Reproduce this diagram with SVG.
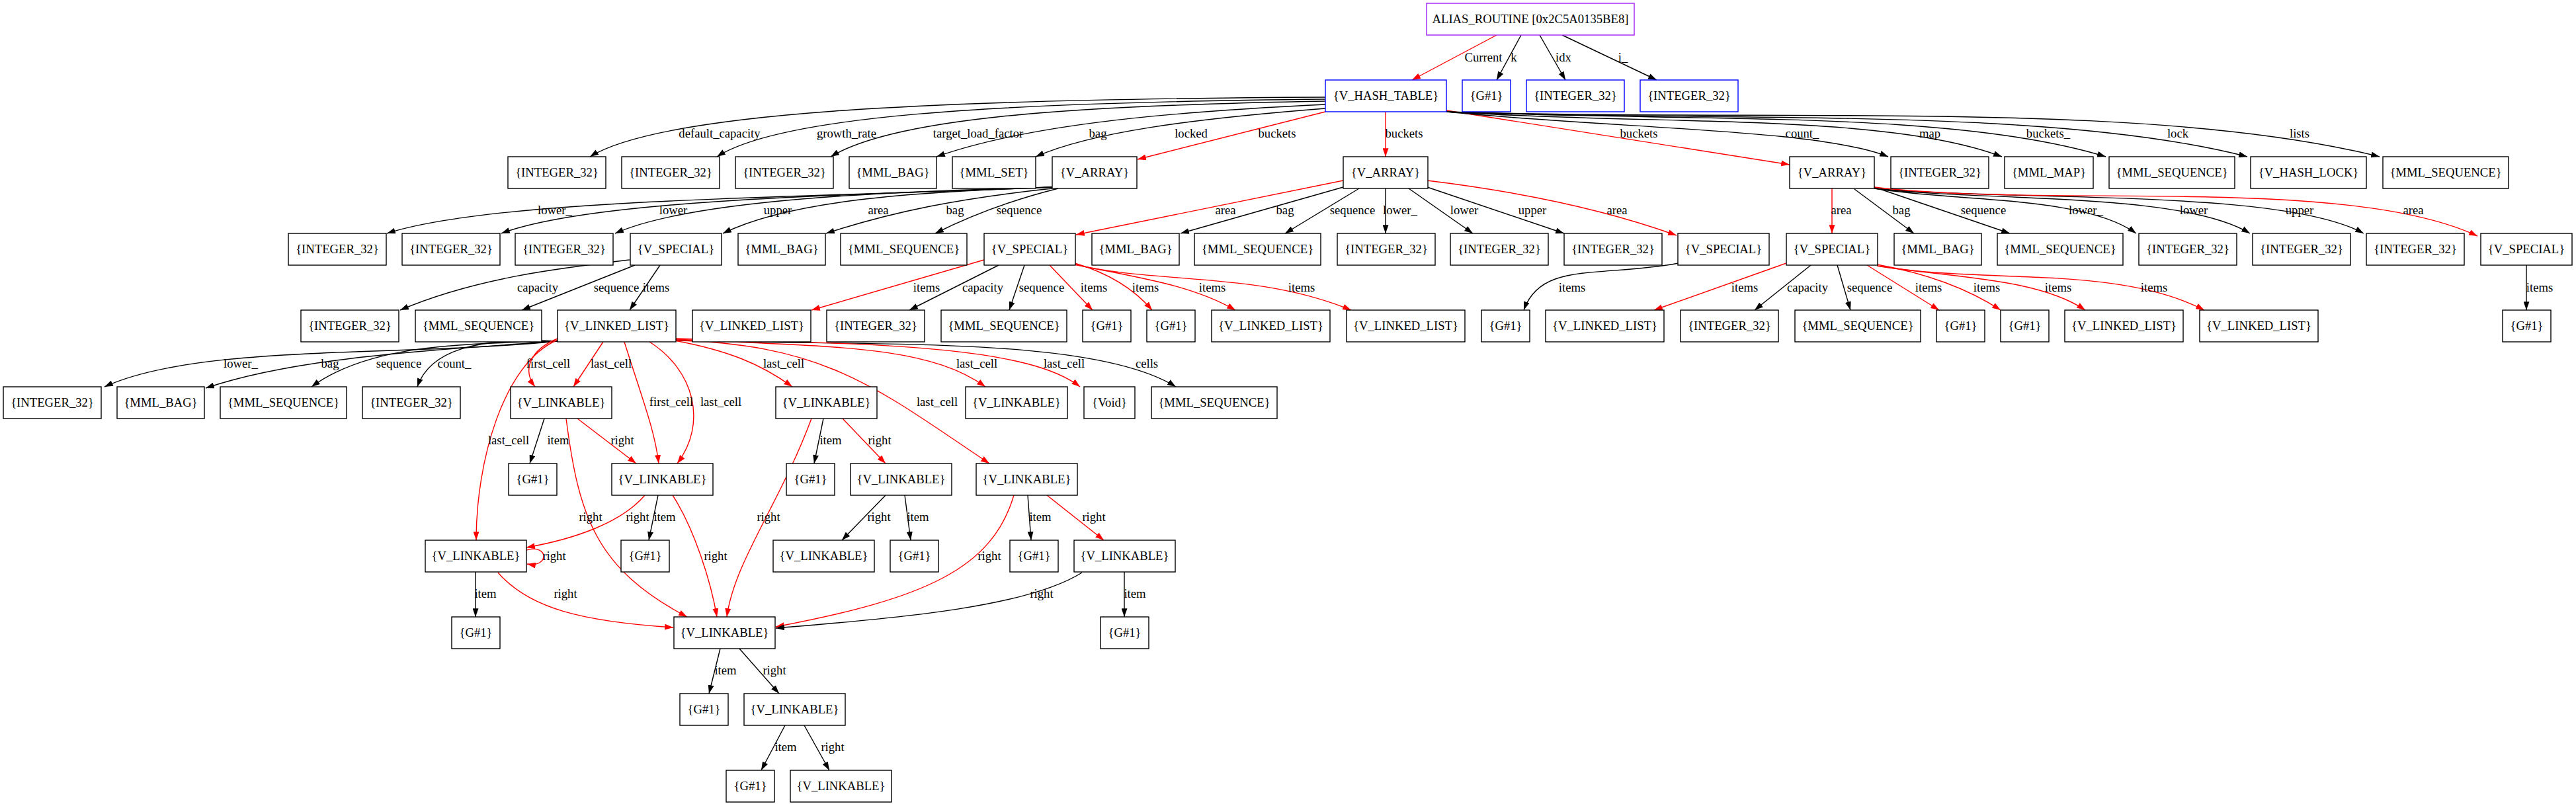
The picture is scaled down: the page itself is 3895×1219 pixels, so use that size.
<svg xmlns="http://www.w3.org/2000/svg" width="3895" height="1219" viewBox="0 0 3895 1219">
<style>
.n rect{fill:#fff;stroke:#000;stroke-width:1.4}
.n.b rect{stroke:#0000ff}
.n.p rect{stroke:#a020f0}
text{font-family:"Liberation Serif","Times New Roman",serif;font-size:18.67px;fill:#000}
.n text{text-anchor:middle}
.l text{text-anchor:middle}
.e path{fill:none;stroke:#000;stroke-width:1.4;marker-end:url(#ak)}
.e path.r{stroke:#ff0000;marker-end:url(#ar)}
</style>
<defs>
<marker id="ak" viewBox="0 0 10 7" refX="10" refY="3.5" markerWidth="13" markerHeight="9" markerUnits="userSpaceOnUse" orient="auto"><path d="M0,0L10,3.5L0,7z" fill="#000"/></marker>
<marker id="ar" viewBox="0 0 10 7" refX="10" refY="3.5" markerWidth="13" markerHeight="9" markerUnits="userSpaceOnUse" orient="auto"><path d="M0,0L10,3.5L0,7z" fill="#ff0000"/></marker>
</defs>
<rect width="3895" height="1219" fill="#fff"/>
<g id="connectors" class="e">
<path class="r" d="M2263,53L2135,121"/>
<path d="M2300,53L2263,121"/>
<path d="M2328,53L2367,121"/>
<path d="M2362,53L2505,121"/>
<path d="M2004,147C1400,150 1000,170 892,237"/>
<path d="M2004,150C1500,155 1180,175 1084,237"/>
<path d="M2004,153C1600,160 1350,180 1256,237"/>
<path d="M2004,158C1750,170 1550,190 1416,237"/>
<path d="M2004,164C1800,180 1650,200 1566,237"/>
<path class="r" d="M2004,169L1720,241"/>
<path class="r" d="M2095,169L2095,237"/>
<path class="r" d="M2187,167L2706,249"/>
<path d="M2187,169C2450,195 2750,195 2855,237"/>
<path d="M2187,169C2500,190 2850,170 3027,237"/>
<path d="M2187,169C2550,185 2950,165 3184,237"/>
<path d="M2187,169C2600,185 3100,160 3398,237"/>
<path d="M2187,169C2700,185 3250,150 3598,237"/>
<path d="M1591,283C1200,300 750,300 585,353"/>
<path d="M1591,283C1300,295 900,300 758,353"/>
<path d="M1591,283C1350,290 1050,300 930,353"/>
<path d="M1591,283C1400,290 1200,300 1093,353"/>
<path d="M1591,285C1450,300 1350,320 1249,353"/>
<path d="M1600,285C1520,305 1460,330 1414,353"/>
<path class="r" d="M2031,273L1627,355"/>
<path d="M2031,283L1785,353"/>
<path d="M2055,285L1943,353"/>
<path d="M2095,285L2095,353"/>
<path d="M2130,285L2227,353"/>
<path d="M2158,283L2365,353"/>
<path class="r" d="M2158,273Q2380,300 2535,356"/>
<path class="r" d="M2770,285L2770,353"/>
<path d="M2804,286L2894,353"/>
<path d="M2834,283L3039,353"/>
<path d="M2834,285C2950,305 3150,295 3230,353"/>
<path d="M2834,285C3000,305 3300,290 3402,353"/>
<path d="M2834,285C3050,305 3450,285 3574,353"/>
<path class="r" d="M2834,283C3100,315 3550,265 3746,357"/>
<path d="M952,393C850,405 720,420 605,469"/>
<path d="M960,401L789,469"/>
<path d="M998,401L952,469"/>
<path class="r" d="M1488,393L1227,469"/>
<path d="M1510,401L1375,469"/>
<path d="M1549,401L1526,469"/>
<path class="r" d="M1587,401L1652,469"/>
<path class="r" d="M1625,398Q1700,420 1742,469"/>
<path class="r" d="M1625,400C1720,420 1800,430 1868,469"/>
<path class="r" d="M1625,400C1750,430 1900,410 2043,469"/>
<path d="M2538,398C2420,420 2330,395 2304,469"/>
<path class="r" d="M2701,398L2501,469"/>
<path d="M2738,401L2653,469"/>
<path d="M2778,401L2798,469"/>
<path class="r" d="M2823,401L2932,469"/>
<path class="r" d="M2838,400Q2950,420 3025,469"/>
<path class="r" d="M2838,402C2950,420 3080,420 3153,469"/>
<path class="r" d="M2838,402C3000,430 3200,400 3333,469"/>
<path d="M3820,401L3820,469"/>
<path d="M843,516C600,540 300,520 158,585"/>
<path d="M843,516C650,530 450,540 311,587"/>
<path d="M843,516C700,520 560,520 471,585"/>
<path d="M843,516C720,510 650,530 631,585"/>
<path d="M1022,514C1300,525 1650,505 1778,585"/>
<path class="r" d="M843,512C800,530 790,560 809,585"/>
<path class="r" d="M912,517L867,585"/>
<path class="r" d="M843,514C760,550 720,700 720,817"/>
<path class="r" d="M944,517C970,600 990,650 996,701"/>
<path class="r" d="M982,517C1050,560 1070,640 1024,701"/>
<path class="r" d="M1020,515C1100,530 1150,550 1198,585"/>
<path class="r" d="M1022,515C1250,520 1330,590 1496,701"/>
<path class="r" d="M1022,513C1250,525 1400,520 1490,585"/>
<path class="r" d="M1022,512C1300,520 1550,520 1633,585"/>
<path d="M823,633L801,701"/>
<path class="r" d="M873,633L962,701"/>
<path class="r" d="M856,633C875,780 900,860 1039,933"/>
<path class="r" d="M975,749C940,790 870,815 796,828"/>
<path d="M995,749L981,817"/>
<path class="r" d="M1017,749C1050,800 1075,880 1084,933"/>
<path class="r" d="M796,832C815,826 822,836 822,841C822,848 815,856 797,853"/>
<path d="M719,865L719,933"/>
<path class="r" d="M753,866C800,920 880,940 1018,949"/>
<path d="M1245,633L1231,701"/>
<path class="r" d="M1274,633L1339,701"/>
<path class="r" d="M1227,633C1180,760 1110,850 1099,933"/>
<path d="M1339,749L1273,817"/>
<path d="M1368,749L1377,817"/>
<path class="r" d="M1533,749C1500,860 1400,905 1173,948"/>
<path d="M1554,749L1559,817"/>
<path class="r" d="M1583,749L1669,817"/>
<path d="M1636,866C1550,920 1350,935 1173,950"/>
<path d="M1700,865L1700,933"/>
<path d="M1089,981L1072,1049"/>
<path d="M1118,981L1178,1049"/>
<path d="M1187,1097L1151,1165"/>
<path d="M1216,1097L1254,1165"/>
</g>
<g id="edge-labels" class="l">
<text x="2243" y="93">Current</text><text x="2289" y="93">k</text><text x="2364" y="93">idx</text><text x="2454" y="93">i_</text>
<text x="1088" y="208">default_capacity</text><text x="1280" y="208">growth_rate</text><text x="1479" y="208">target_load_factor</text><text x="1660" y="208">bag</text><text x="1801" y="208">locked</text><text x="1931" y="208">buckets</text><text x="2123" y="208">buckets</text><text x="2478" y="208">buckets</text><text x="2725" y="208">count_</text><text x="2918" y="208">map</text><text x="3097" y="208">buckets_</text><text x="3293" y="208">lock</text><text x="3477" y="208">lists</text>
<text x="839" y="324">lower_</text><text x="1018" y="324">lower</text><text x="1176" y="324">upper</text><text x="1328" y="324">area</text><text x="1444" y="324">bag</text><text x="1541" y="324">sequence</text><text x="1853" y="324">area</text><text x="1943" y="324">bag</text><text x="2045" y="324">sequence</text><text x="2117" y="324">lower_</text><text x="2214" y="324">lower</text><text x="2317" y="324">upper</text><text x="2445" y="324">area</text><text x="2784" y="324">area</text><text x="2875" y="324">bag</text><text x="2999" y="324">sequence</text><text x="3154" y="324">lower_</text><text x="3317" y="324">lower</text><text x="3477" y="324">upper</text><text x="3649" y="324">area</text>
<text x="813" y="441">capacity</text><text x="932" y="441">sequence</text><text x="992" y="441">items</text><text x="1401" y="441">items</text><text x="1486" y="441">capacity</text><text x="1575" y="441">sequence</text><text x="1654" y="441">items</text><text x="1732" y="441">items</text><text x="1833" y="441">items</text><text x="1968" y="441">items</text><text x="2377" y="441">items</text><text x="2638" y="441">items</text><text x="2733" y="441">capacity</text><text x="2827" y="441">sequence</text><text x="2916" y="441">items</text><text x="3004" y="441">items</text><text x="3112" y="441">items</text><text x="3257" y="441">items</text><text x="3840" y="441">items</text>
<text x="364" y="556">lower_</text><text x="499" y="556">bag</text><text x="603" y="556">sequence</text><text x="687" y="556">count_</text><text x="829" y="556">first_cell</text><text x="924" y="556">last_cell</text><text x="1185" y="556">last_cell</text><text x="1477" y="556">last_cell</text><text x="1609" y="556">last_cell</text><text x="1734" y="556">cells</text>
<text x="1015" y="614">first_cell</text><text x="1090" y="614">last_cell</text><text x="1417" y="614">last_cell</text>
<text x="769" y="672">last_cell</text><text x="844" y="672">item</text><text x="941" y="672">right</text><text x="1256" y="672">item</text><text x="1330" y="672">right</text>
<text x="893" y="788">right</text><text x="964" y="788">right</text><text x="1005" y="788">item</text><text x="1162" y="788">right</text><text x="1329" y="788">right</text><text x="1388" y="788">item</text><text x="1573" y="788">item</text><text x="1654" y="788">right</text>
<text x="838" y="847">right</text><text x="1082" y="847">right</text><text x="1496" y="847">right</text>
<text x="734" y="904">item</text><text x="855" y="904">right</text><text x="1575" y="904">right</text><text x="1716" y="904">item</text>
<text x="1097" y="1020">item</text><text x="1171" y="1020">right</text>
<text x="1188" y="1136">item</text><text x="1259" y="1136">right</text>
</g>
<g id="n0" class="n p"><rect x="2157" y="5" width="314" height="48"/><text x="2314" y="35">ALIAS_ROUTINE [0x2C5A0135BE8]</text></g>
<g id="n1" class="n b"><rect x="2004" y="121" width="183" height="48"/><text x="2095.5" y="151">{V_HASH_TABLE}</text></g>
<g id="n2" class="n b"><rect x="2211" y="121" width="73" height="48"/><text x="2247.5" y="151">{G#1}</text></g>
<g id="n3" class="n b"><rect x="2308" y="121" width="148" height="48"/><text x="2382" y="151">{INTEGER_32}</text></g>
<g id="n4" class="n b"><rect x="2480" y="121" width="148" height="48"/><text x="2554" y="151">{INTEGER_32}</text></g>
<g id="n5" class="n"><rect x="768" y="237" width="148" height="48"/><text x="842" y="267">{INTEGER_32}</text></g>
<g id="n6" class="n"><rect x="940" y="237" width="148" height="48"/><text x="1014" y="267">{INTEGER_32}</text></g>
<g id="n7" class="n"><rect x="1112" y="237" width="148" height="48"/><text x="1186" y="267">{INTEGER_32}</text></g>
<g id="n8" class="n"><rect x="1284" y="237" width="132" height="48"/><text x="1350" y="267">{MML_BAG}</text></g>
<g id="n9" class="n"><rect x="1440" y="237" width="126" height="48"/><text x="1503" y="267">{MML_SET}</text></g>
<g id="n10" class="n"><rect x="1591" y="237" width="128" height="48"/><text x="1655" y="267">{V_ARRAY}</text></g>
<g id="n11" class="n"><rect x="2031" y="237" width="128" height="48"/><text x="2095" y="267">{V_ARRAY}</text></g>
<g id="n12" class="n"><rect x="2706" y="237" width="128" height="48"/><text x="2770" y="267">{V_ARRAY}</text></g>
<g id="n13" class="n"><rect x="2859" y="237" width="148" height="48"/><text x="2933" y="267">{INTEGER_32}</text></g>
<g id="n14" class="n"><rect x="3031" y="237" width="134" height="48"/><text x="3098" y="267">{MML_MAP}</text></g>
<g id="n15" class="n"><rect x="3189" y="237" width="190" height="48"/><text x="3284" y="267">{MML_SEQUENCE}</text></g>
<g id="n16" class="n"><rect x="3403" y="237" width="175" height="48"/><text x="3490.5" y="267">{V_HASH_LOCK}</text></g>
<g id="n17" class="n"><rect x="3603" y="237" width="190" height="48"/><text x="3698" y="267">{MML_SEQUENCE}</text></g>
<g id="n18" class="n"><rect x="436" y="353" width="148" height="48"/><text x="510" y="383">{INTEGER_32}</text></g>
<g id="n19" class="n"><rect x="608" y="353" width="148" height="48"/><text x="682" y="383">{INTEGER_32}</text></g>
<g id="n20" class="n"><rect x="779" y="353" width="148" height="48"/><text x="853" y="383">{INTEGER_32}</text></g>
<g id="n21" class="n"><rect x="953" y="353" width="138" height="48"/><text x="1022" y="383">{V_SPECIAL}</text></g>
<g id="n22" class="n"><rect x="1116" y="353" width="132" height="48"/><text x="1182" y="383">{MML_BAG}</text></g>
<g id="n23" class="n"><rect x="1271" y="353" width="191" height="48"/><text x="1366.5" y="383">{MML_SEQUENCE}</text></g>
<g id="n24" class="n"><rect x="1488" y="353" width="138" height="48"/><text x="1557" y="383">{V_SPECIAL}</text></g>
<g id="n25" class="n"><rect x="1651" y="353" width="132" height="48"/><text x="1717" y="383">{MML_BAG}</text></g>
<g id="n26" class="n"><rect x="1806" y="353" width="191" height="48"/><text x="1901.5" y="383">{MML_SEQUENCE}</text></g>
<g id="n27" class="n"><rect x="2022" y="353" width="148" height="48"/><text x="2096" y="383">{INTEGER_32}</text></g>
<g id="n28" class="n"><rect x="2193" y="353" width="148" height="48"/><text x="2267" y="383">{INTEGER_32}</text></g>
<g id="n29" class="n"><rect x="2365" y="353" width="148" height="48"/><text x="2439" y="383">{INTEGER_32}</text></g>
<g id="n30" class="n"><rect x="2537" y="353" width="138" height="48"/><text x="2606" y="383">{V_SPECIAL}</text></g>
<g id="n31" class="n"><rect x="2701" y="353" width="138" height="48"/><text x="2770" y="383">{V_SPECIAL}</text></g>
<g id="n32" class="n"><rect x="2864" y="353" width="132" height="48"/><text x="2930" y="383">{MML_BAG}</text></g>
<g id="n33" class="n"><rect x="3020" y="353" width="190" height="48"/><text x="3115" y="383">{MML_SEQUENCE}</text></g>
<g id="n34" class="n"><rect x="3234" y="353" width="148" height="48"/><text x="3308" y="383">{INTEGER_32}</text></g>
<g id="n35" class="n"><rect x="3406" y="353" width="148" height="48"/><text x="3480" y="383">{INTEGER_32}</text></g>
<g id="n36" class="n"><rect x="3578" y="353" width="148" height="48"/><text x="3652" y="383">{INTEGER_32}</text></g>
<g id="n37" class="n"><rect x="3751" y="353" width="138" height="48"/><text x="3820" y="383">{V_SPECIAL}</text></g>
<g id="n38" class="n"><rect x="455" y="469" width="148" height="48"/><text x="529" y="499">{INTEGER_32}</text></g>
<g id="n39" class="n"><rect x="628" y="469" width="191" height="48"/><text x="723.5" y="499">{MML_SEQUENCE}</text></g>
<g id="n40" class="n"><rect x="843" y="469" width="179" height="48"/><text x="932.5" y="499">{V_LINKED_LIST}</text></g>
<g id="n41" class="n"><rect x="1047" y="469" width="179" height="48"/><text x="1136.5" y="499">{V_LINKED_LIST}</text></g>
<g id="n42" class="n"><rect x="1250" y="469" width="148" height="48"/><text x="1324" y="499">{INTEGER_32}</text></g>
<g id="n43" class="n"><rect x="1423" y="469" width="190" height="48"/><text x="1518" y="499">{MML_SEQUENCE}</text></g>
<g id="n44" class="n"><rect x="1637" y="469" width="73" height="48"/><text x="1673.5" y="499">{G#1}</text></g>
<g id="n45" class="n"><rect x="1734" y="469" width="73" height="48"/><text x="1770.5" y="499">{G#1}</text></g>
<g id="n46" class="n"><rect x="1832" y="469" width="179" height="48"/><text x="1921.5" y="499">{V_LINKED_LIST}</text></g>
<g id="n47" class="n"><rect x="2036" y="469" width="179" height="48"/><text x="2125.5" y="499">{V_LINKED_LIST}</text></g>
<g id="n48" class="n"><rect x="2240" y="469" width="73" height="48"/><text x="2276.5" y="499">{G#1}</text></g>
<g id="n49" class="n"><rect x="2337" y="469" width="179" height="48"/><text x="2426.5" y="499">{V_LINKED_LIST}</text></g>
<g id="n50" class="n"><rect x="2541" y="469" width="148" height="48"/><text x="2615" y="499">{INTEGER_32}</text></g>
<g id="n51" class="n"><rect x="2714" y="469" width="190" height="48"/><text x="2809" y="499">{MML_SEQUENCE}</text></g>
<g id="n52" class="n"><rect x="2928" y="469" width="73" height="48"/><text x="2964.5" y="499">{G#1}</text></g>
<g id="n53" class="n"><rect x="3025" y="469" width="73" height="48"/><text x="3061.5" y="499">{G#1}</text></g>
<g id="n54" class="n"><rect x="3122" y="469" width="179" height="48"/><text x="3211.5" y="499">{V_LINKED_LIST}</text></g>
<g id="n55" class="n"><rect x="3326" y="469" width="179" height="48"/><text x="3415.5" y="499">{V_LINKED_LIST}</text></g>
<g id="n56" class="n"><rect x="3784" y="469" width="73" height="48"/><text x="3820.5" y="499">{G#1}</text></g>
<g id="n57" class="n"><rect x="5" y="585" width="148" height="48"/><text x="79" y="615">{INTEGER_32}</text></g>
<g id="n58" class="n"><rect x="177" y="585" width="132" height="48"/><text x="243" y="615">{MML_BAG}</text></g>
<g id="n59" class="n"><rect x="333" y="585" width="191" height="48"/><text x="428.5" y="615">{MML_SEQUENCE}</text></g>
<g id="n60" class="n"><rect x="548" y="585" width="148" height="48"/><text x="622" y="615">{INTEGER_32}</text></g>
<g id="n61" class="n"><rect x="772" y="585" width="153" height="48"/><text x="848.5" y="615">{V_LINKABLE}</text></g>
<g id="n62" class="n"><rect x="1173" y="585" width="153" height="48"/><text x="1249.5" y="615">{V_LINKABLE}</text></g>
<g id="n63" class="n"><rect x="1460" y="585" width="154" height="48"/><text x="1537" y="615">{V_LINKABLE}</text></g>
<g id="n64" class="n"><rect x="1639" y="585" width="77" height="48"/><text x="1677.5" y="615">{Void}</text></g>
<g id="n65" class="n"><rect x="1741" y="585" width="190" height="48"/><text x="1836" y="615">{MML_SEQUENCE}</text></g>
<g id="n66" class="n"><rect x="769" y="701" width="73" height="48"/><text x="805.5" y="731">{G#1}</text></g>
<g id="n67" class="n"><rect x="925" y="701" width="153" height="48"/><text x="1001.5" y="731">{V_LINKABLE}</text></g>
<g id="n68" class="n"><rect x="1189" y="701" width="73" height="48"/><text x="1225.5" y="731">{G#1}</text></g>
<g id="n69" class="n"><rect x="1286" y="701" width="153" height="48"/><text x="1362.5" y="731">{V_LINKABLE}</text></g>
<g id="n70" class="n"><rect x="1476" y="701" width="153" height="48"/><text x="1552.5" y="731">{V_LINKABLE}</text></g>
<g id="n71" class="n"><rect x="643" y="817" width="153" height="48"/><text x="719.5" y="847">{V_LINKABLE}</text></g>
<g id="n72" class="n"><rect x="939" y="817" width="73" height="48"/><text x="975.5" y="847">{G#1}</text></g>
<g id="n73" class="n"><rect x="1169" y="817" width="153" height="48"/><text x="1245.5" y="847">{V_LINKABLE}</text></g>
<g id="n74" class="n"><rect x="1346" y="817" width="73" height="48"/><text x="1382.5" y="847">{G#1}</text></g>
<g id="n75" class="n"><rect x="1527" y="817" width="73" height="48"/><text x="1563.5" y="847">{G#1}</text></g>
<g id="n76" class="n"><rect x="1624" y="817" width="153" height="48"/><text x="1700.5" y="847">{V_LINKABLE}</text></g>
<g id="n77" class="n"><rect x="683" y="933" width="73" height="48"/><text x="719.5" y="963">{G#1}</text></g>
<g id="n78" class="n"><rect x="1019" y="933" width="153" height="48"/><text x="1095.5" y="963">{V_LINKABLE}</text></g>
<g id="n79" class="n"><rect x="1664" y="933" width="73" height="48"/><text x="1700.5" y="963">{G#1}</text></g>
<g id="n80" class="n"><rect x="1028" y="1049" width="73" height="48"/><text x="1064.5" y="1079">{G#1}</text></g>
<g id="n81" class="n"><rect x="1125" y="1049" width="153" height="48"/><text x="1201.5" y="1079">{V_LINKABLE}</text></g>
<g id="n82" class="n"><rect x="1098" y="1165" width="73" height="48"/><text x="1134.5" y="1195">{G#1}</text></g>
<g id="n83" class="n"><rect x="1195" y="1165" width="153" height="48"/><text x="1271.5" y="1195">{V_LINKABLE}</text></g>
</svg>
